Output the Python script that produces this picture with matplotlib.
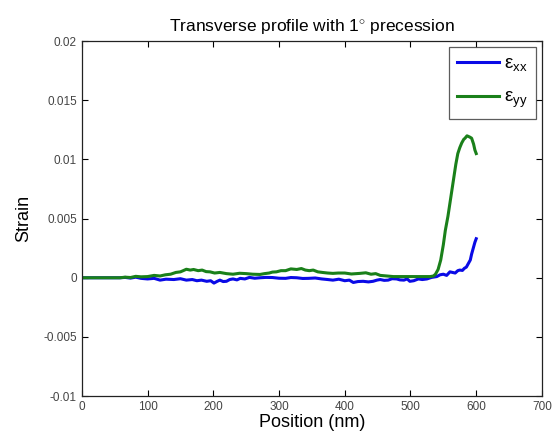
import matplotlib
matplotlib.use("Agg")
import matplotlib.pyplot as plt

plt.rcParams['font.family'] = ['Liberation Sans', 'DejaVu Sans']
plt.rcParams['mathtext.fontset'] = 'custom'
plt.rcParams['mathtext.rm'] = 'Liberation Sans'
plt.rcParams['mathtext.it'] = 'Liberation Sans'

# --- data ---
x_xx = [0, 58, 66, 74, 82, 90, 100, 110, 119, 128, 140, 150, 159, 168, 175, 182, 190, 196, 201, 206,
        210, 215, 220, 225, 230, 236, 241, 248, 255, 263, 271, 280, 290, 300, 310, 318, 327,
        336, 345, 355, 365, 374, 382, 391, 400, 407, 413, 420, 428, 436, 443, 449, 454, 460, 466,
        472, 479, 484, 490, 495, 499, 505, 512, 518, 525, 532, 540, 545, 550, 555, 560, 564, 568,
        572, 575, 579, 582, 585, 588, 591, 593, 596, 598, 600]
eps_xx = [0, 0, 0.00003, -0.00003, 0.00005, -0.00005, -0.0001, -0.00005, -0.0002, -0.00012, -0.00015,
          -0.00008, -0.0002, -0.00015, -0.00025, -0.0002, -0.0003, -0.00025, -0.00045, -0.0003,
          -0.0002, -0.00032, -0.0003, -0.00015, -0.0001, -0.00018, -0.00005, -0.0001, 0.00003,
          -0.00004, 0, 0.00003, 0.00002, -0.00004, -0.00005, 0.00002, 0, -0.00006, -0.00005, -0.00002,
          -0.0001, -0.00015, -0.0002, -0.00012, -0.00025, -0.0002, -0.0004, -0.00032, -0.0003,
          -0.00035, -0.0003, -0.0002, -0.00015, -0.00022, -0.0002, -0.00008, -0.0001, -0.00018,
          -0.0002, -0.0001, -0.0003, -0.00025, -0.0001, -0.00015, -0.0001, 0.00003, 0.0001, 0.00025,
          0.0003, 0.0002, 0.0005, 0.00045, 0.0004, 0.0006, 0.00065, 0.00062, 0.0008, 0.0009, 0.0012,
          0.0015, 0.002, 0.0026, 0.003, 0.0033]

x_yy = [0, 58, 66, 74, 82, 90, 100, 110, 119, 127, 135, 143, 150, 155, 159, 165, 170, 177, 183, 189,
        195, 202, 210, 220, 230, 240, 250, 260, 271, 278, 285, 290, 296, 303, 310, 318, 327,
        334, 340, 346, 352, 359, 366, 374, 382, 390, 400, 410, 423, 432, 440, 447, 454, 464, 474,
        487, 500, 515, 530, 535, 538, 542, 546, 550, 553, 557, 560, 563, 566, 569, 572, 575, 578,
        581, 583, 586, 590, 593, 596, 598, 600]
eps_yy = [0, 0, 0.00005, 0.00002, 0.00012, 0.00008, 0.0001, 0.0002, 0.00015, 0.00025, 0.0003, 0.00045,
          0.0005, 0.00062, 0.00072, 0.00065, 0.0007, 0.0006, 0.00065, 0.00052, 0.0005, 0.0004, 0.00045,
          0.00035, 0.0003, 0.00038, 0.00035, 0.0003, 0.00028, 0.00035, 0.0004, 0.00048, 0.0005,
          0.0006, 0.0006, 0.00075, 0.0007, 0.00078, 0.00065, 0.0006, 0.00065, 0.0005, 0.00045,
          0.0004, 0.00037, 0.0004, 0.0004, 0.00032, 0.00037, 0.00042, 0.0003, 0.00035, 0.0002,
          0.00015, 0.0001, 0.0001, 0.0001, 0.0001, 0.0001, 0.00015, 0.0003, 0.0007, 0.0015, 0.0028,
          0.004, 0.0052, 0.0063, 0.0074, 0.0085, 0.0096, 0.0105, 0.011, 0.0114, 0.0117, 0.0118,
          0.012, 0.0119, 0.0118, 0.0113, 0.0108, 0.0105]

x_ticks = [0, 100, 200, 300, 400, 500, 600, 700]
y_ticks = [-0.01, -0.005, 0, 0.005, 0.01, 0.015, 0.02]
y_tick_labels = ['-0.01', '-0.005', '0', '0.005', '0.01', '0.015', '0.02']

fig = plt.figure(figsize=(5.53, 4.43), dpi=100)
ax = fig.add_axes([0.148, 0.106, 0.832, 0.801])

ax.plot(x_xx, eps_xx, color='#0a0ae6', lw=2.2, label=r'$\mathregular{ε_{xx}}$')
ax.plot(x_yy, eps_yy, color='#1a801a', lw=2.2, label=r'$\mathregular{ε_{yy}}$')

ax.set_xlim(0, 700)
ax.set_ylim(-0.01, 0.02)
ax.set_xticks(x_ticks)
ax.set_xticklabels([str(t) for t in x_ticks])
ax.set_yticks(y_ticks)
ax.set_yticklabels(y_tick_labels)
ax.tick_params(direction='in', top=True, right=True, labelsize=8.5, labelcolor='#444444',
               length=4, width=0.8)
for s in ax.spines.values():
    s.set_linewidth(0.9)
    s.set_color('#222222')

ax.set_xlabel('Position (nm)', fontsize=13, labelpad=1)
ax.set_ylabel('Strain', fontsize=13, labelpad=8)
ax.set_title('Transverse profile with 1$^{\\circ}$ precession', fontsize=12.5, pad=7)

leg = ax.legend(loc='upper right', fontsize=13.5, frameon=True, fancybox=False,
                edgecolor='#333333', handlelength=2.2, borderaxespad=0.3,
                labelspacing=0.85, handletextpad=0.3, borderpad=0.45)
leg.get_frame().set_linewidth(0.9)

fig.savefig('out.png', dpi=100)
